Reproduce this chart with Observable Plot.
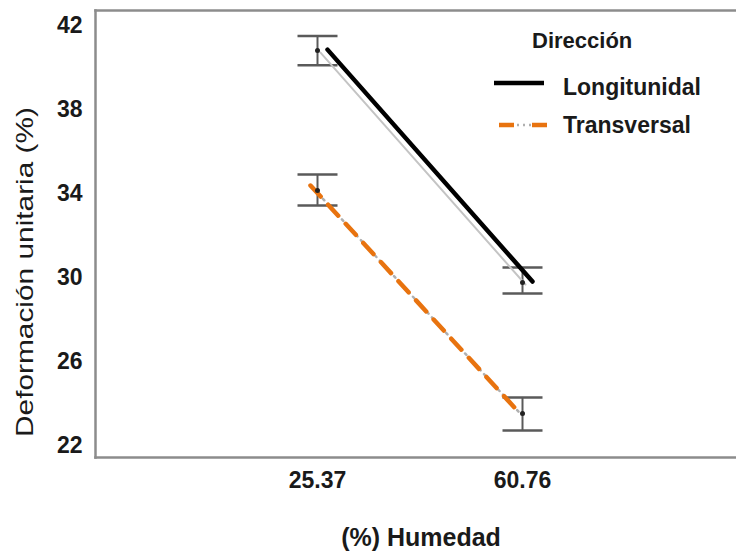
<!DOCTYPE html>
<html><head><meta charset="utf-8">
<script src="https://cdn.jsdelivr.net/npm/d3@7"></script>
<script src="https://cdn.jsdelivr.net/npm/@observablehq/plot@0.6"></script>
<style>
body{margin:0;background:#fff;}
#wrap{position:relative;width:736px;height:559px;font-family:"Liberation Sans",Arial,sans-serif;color:#1a1a1a;}
.lg{position:absolute;white-space:nowrap;line-height:1;}
</style></head><body><div id="wrap"><div id="chart"></div><div id="legend"></div></div>
<script>
const humedad = ["25.37", "60.76"];
const direcciones = ["Longitunidal", "Transversal"];
const longMean = [40.8, 29.76];
const longLow = [40.1, 29.24];
const longHigh = [41.5, 30.48];
const transMean = [34.14, 23.52];
const transLow = [33.43, 22.71];
const transHigh = [34.9, 24.29];
const yTicks = [22, 26, 30, 34, 38, 42];
const colores = ["#000000", "#e8730f"];

const rows = [];
humedad.forEach((h, i) => {
  rows.push({dir: direcciones[0], h, mean: longMean[i], lo: longLow[i], hi: longHigh[i]});
  rows.push({dir: direcciones[1], h, mean: transMean[i], lo: transLow[i], hi: transHigh[i]});
});
const longRows = rows.filter(d => d.dir === direcciones[0]);
const transRows = rows.filter(d => d.dir === direcciones[1]);

// horizontal cap symbol for error bars
const capSymbol = {draw(ctx) { ctx.moveTo(-20, 0); ctx.lineTo(20, 0); }};

const frameStroke = "#8c8c8c";
const chart = Plot.plot({
  width: 736, height: 559,
  marginLeft: 95, marginRight: 0, marginTop: 10, marginBottom: 102,
  style: {fontFamily: "'Liberation Sans', Arial, sans-serif", fontSize: "23px", fontWeight: "bold", color: "#1a1a1a", background: "transparent"},
  x: {type: "point", domain: humedad, padding: 1.063, align: 0.51, tickSize: 0, tickPadding: 14, label: null},
  y: {domain: [21.43, 42.71], ticks: yTicks, tickSize: 0, tickPadding: 13, label: null},
  marks: [
    Plot.frame({anchor: "left", stroke: frameStroke, strokeWidth: 2.5}),
    Plot.frame({anchor: "top", stroke: frameStroke, strokeWidth: 2.5}),
    Plot.frame({anchor: "bottom", stroke: frameStroke, strokeWidth: 2.5}),
    Plot.ruleX(rows, {x: "h", y1: "lo", y2: "hi", stroke: "#5a5a5a", strokeWidth: 2}),
    Plot.dot(rows, {x: "h", y: "lo", symbol: capSymbol, fill: "none", stroke: "#5a5a5a", strokeWidth: 2.5}),
    Plot.dot(rows, {x: "h", y: "hi", symbol: capSymbol, fill: "none", stroke: "#5a5a5a", strokeWidth: 2.5}),
    Plot.line(longRows, {x: "h", y: "mean", stroke: "#c4c4c4", strokeWidth: 2, dx: 3, dy: 2}),
    Plot.line(transRows, {x: "h", y: "mean", stroke: "#b0b0b0", strokeWidth: 2.5, strokeDasharray: "2,5", dx: -4, dy: -2}),
    Plot.line(longRows, {x: "h", y: "mean", stroke: colores[0], strokeWidth: 4.5, dx: 10, dy: -1}),
    Plot.line(transRows, {x: "h", y: "mean", stroke: colores[1], strokeWidth: 4.5, strokeDasharray: "15,11", dx: -7, dy: -5}),
    Plot.dot(rows, {x: "h", y: "mean", r: 2.5, fill: "#222", stroke: null}),
    Plot.text(["Deformación unitaria (%)"], {frameAnchor: "left", textAnchor: "middle", rotate: -90, dx: -70, dy: 38, fontSize: 24, fontWeight: "normal", fill: "#1a1a1a", className: "ylab"}),
    Plot.text(["(%) Humedad"], {frameAnchor: "bottom", dx: 5, dy: 88, fontSize: 25, fontWeight: "bold", fill: "#1a1a1a"})
  ]
});
document.getElementById("chart").appendChild(chart);
// stretch the y label along its length like the reference
d3.select(chart).selectAll(".ylab text").attr("textLength", 330).attr("lengthAdjust", "spacingAndGlyphs");

// legend
const lg = document.getElementById("legend");
function add(html, style) {
  const d = document.createElement("div");
  d.className = "lg";
  d.innerHTML = html;
  d.setAttribute("style", style);
  lg.appendChild(d);
}
add("Dirección", "left:532px;top:30px;font-size:22px;font-weight:bold;");
add(`<svg width="54" height="8"><line x1="0" y1="4" x2="50" y2="4" stroke="${colores[0]}" stroke-width="4.5"/></svg>`, "left:494px;top:74px;");
add(direcciones[0], "left:563px;top:76px;font-size:23px;font-weight:bold;");
add(`<svg width="54" height="8"><line x1="4" y1="4" x2="50" y2="4" stroke="#b0b0b0" stroke-width="2.5" stroke-dasharray="2,4"/><line x1="4" y1="4" x2="54" y2="4" stroke="${colores[1]}" stroke-width="4.5" stroke-dasharray="15,18"/></svg>`, "left:495px;top:116px;");
add(direcciones[1], "left:563px;top:114px;font-size:23px;font-weight:bold;");
</script></body></html>
